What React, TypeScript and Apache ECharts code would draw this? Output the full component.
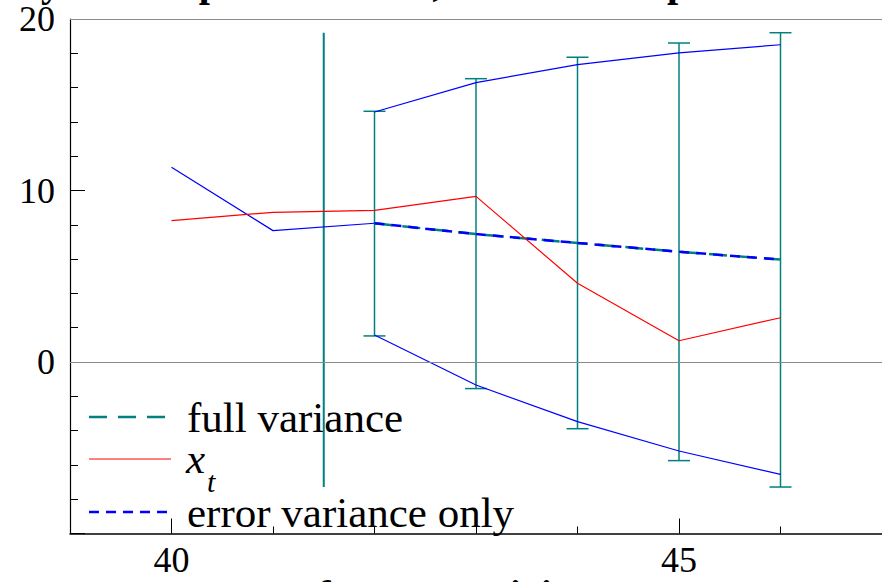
import React, { useEffect, useRef } from "react";
import * as echarts from "echarts";

// Observation periods and the observed series x_t
const periods = [40, 41, 42, 43, 44, 45, 46];
const actual = [8.24, 8.73, 8.84, 9.66, 4.59, 1.24, 2.58];

// In-sample fitted path up to the forecast origin
const fittedPeriods = [40, 41, 42];
const fitted = [11.36, 7.66, 8.09];

// Forecast horizon and point forecasts
const horizon = [42, 43, 44, 45, 46];
const pointForecast = [8.09, 7.46, 6.94, 6.43, 5.97];

// 95% bands using only the error variance
const errorOnlyUpper = [14.58, 16.29, 17.34, 18.02, 18.5];
const errorOnlyLower = [1.57, -1.34, -3.48, -5.19, -6.55];

// 95% bands using the full variance (drawn as error bars)
const fullUpper = [14.62, 16.52, 17.77, 18.6, 19.2];
const fullLower = [1.52, -1.55, -3.89, -5.75, -7.29];

// Forecast origin marker
const forecastOrigin = 41.5;

// Axis ticks and labels
const xMajorTicks = [40, 45];
const xMinorTicks = [41, 42, 43, 44, 46];
const yLabelled = [0, 10, 20];

const TEAL = "#008080";
const BLUE = "#0000ff";
const RED = "#ff0000";
const SERIF = "'Liberation Serif', 'Times New Roman', serif";

const pairs = (xs: number[], ys: number[]) => xs.map((x, i) => [x, ys[i]]);

export default function App() {
  const ref = useRef<HTMLDivElement>(null);

  useEffect(() => {
    if (!ref.current) return;
    const chart = echarts.init(ref.current, undefined, { renderer: "svg" });

    const originLow = Math.min(...fullLower);
    const originHigh = Math.max(...fullUpper);

    const option: any = {
      animation: false,
      backgroundColor: "#ffffff",
      grid: { left: 70, right: -1, top: 19, bottom: 48.5, containLabel: false },
      xAxis: [
        {
          type: "value",
          min: 39,
          max: 47,
          position: "bottom",
          axisLine: { show: true, onZero: false, lineStyle: { color: "#000", width: 1.5 } },
          axisTick: {
            show: true,
            inside: true,
            length: 15,
            customValues: xMajorTicks,
            lineStyle: { color: "#000", width: 1 },
          },
          axisLabel: {
            show: true,
            customValues: xMajorTicks,
            margin: 8,
            color: "#000",
            fontSize: 36,
            fontFamily: SERIF,
          },
          splitLine: { show: false },
        },
        {
          type: "value",
          min: 39,
          max: 47,
          position: "bottom",
          axisLine: { show: false, onZero: false },
          axisTick: {
            show: true,
            inside: true,
            length: 7,
            customValues: xMinorTicks,
            lineStyle: { color: "#000", width: 1 },
          },
          axisLabel: { show: false },
          splitLine: { show: false },
        },
      ],
      yAxis: {
        type: "value",
        min: -10,
        max: 20,
        interval: 10,
        axisLine: { show: true, onZero: false, lineStyle: { color: "#000", width: 1.2 } },
        axisTick: { show: true, inside: true, length: 15, lineStyle: { color: "#000", width: 1 } },
        minorTick: { show: true, splitNumber: 5, length: 8, lineStyle: { color: "#000", width: 1 } },
        axisLabel: {
          margin: 15,
          color: "#000",
          fontSize: 36,
          fontFamily: SERIF,
          formatter: (v: number) => (yLabelled.includes(v) ? String(v) : ""),
        },
        splitLine: { show: false },
      },
      series: [
        {
          name: "fitted",
          type: "line",
          data: pairs(fittedPeriods, fitted),
          symbol: "none",
          lineStyle: { color: BLUE, width: 1.2 },
          z: 3,
          markLine: {
            silent: true,
            symbol: "none",
            label: { show: false },
            lineStyle: { color: "#8a8a8a", width: 1, type: "solid" },
            data: [{ yAxis: 0 }, { yAxis: 20 }],
          },
        },
        {
          name: "full variance interval",
          type: "custom",
          data: horizon.map((x, i) => [x, fullLower[i], fullUpper[i]]),
          encode: { x: 0, y: [1, 2] },
          z: 2,
          renderItem: (_params: any, api: any) => {
            const x = api.value(0);
            const lo = api.coord([x, api.value(1)]);
            const hi = api.coord([x, api.value(2)]);
            const half = 11;
            const style = { stroke: TEAL, lineWidth: 1.5 };
            return {
              type: "group",
              children: [
                { type: "line", shape: { x1: lo[0], y1: lo[1], x2: hi[0], y2: hi[1] }, style },
                { type: "line", shape: { x1: lo[0] - half, y1: lo[1], x2: lo[0] + half, y2: lo[1] }, style },
                { type: "line", shape: { x1: hi[0] - half, y1: hi[1], x2: hi[0] + half, y2: hi[1] }, style },
              ],
            };
          },
        },
        {
          name: "forecast origin",
          type: "line",
          data: [
            [forecastOrigin, originLow],
            [forecastOrigin, originHigh],
          ],
          symbol: "none",
          lineStyle: { color: TEAL, width: 2 },
          z: 2,
        },
        {
          name: "full variance",
          type: "line",
          data: pairs(horizon, pointForecast),
          symbol: "none",
          lineStyle: { color: TEAL, width: 2.5, type: [18, 10] },
          z: 3,
        },
        {
          name: "error variance only",
          type: "line",
          data: pairs(horizon, pointForecast),
          symbol: "none",
          lineStyle: { color: BLUE, width: 2.5, type: [10, 7] },
          z: 4,
        },
        {
          name: "error variance upper",
          type: "line",
          data: pairs(horizon, errorOnlyUpper),
          symbol: "none",
          lineStyle: { color: BLUE, width: 1.2 },
          z: 3,
        },
        {
          name: "error variance lower",
          type: "line",
          data: pairs(horizon, errorOnlyLower),
          symbol: "none",
          lineStyle: { color: BLUE, width: 1.2 },
          z: 3,
        },
        {
          name: "x_t",
          type: "line",
          data: pairs(periods, actual),
          symbol: "none",
          lineStyle: { color: RED, width: 1.2 },
          z: 4,
        },
      ],
      graphic: [
        // title (runs past the top edge of the frame)
        {
          type: "text",
          left: -2,
          top: -38,
          style: {
            text: "Toy model: point forecast, and its 95% prediction intervals",
            font: `bold 40px ${SERIF}`,
            fill: "#000",
          },
        },
        // caption below the axis (runs past the bottom edge)
        {
          type: "text",
          left: 205,
          top: 574.5,
          style: {
            text: "5-step forecast, origin t = 41",
            font: `bold 40px ${SERIF}`,
            fill: "#000",
          },
        },
        // legend
        {
          type: "line",
          shape: { x1: 89, y1: 417, x2: 171, y2: 417 },
          style: { stroke: TEAL, lineWidth: 2.5, lineDash: [18, 11] },
        },
        {
          type: "text",
          x: 187,
          y: 417,
          style: {
            text: "full variance",
            font: `43px ${SERIF}`,
            fill: "#000",
            verticalAlign: "middle",
          },
        },
        {
          type: "line",
          shape: { x1: 89, y1: 459, x2: 171, y2: 459 },
          style: { stroke: RED, lineWidth: 1.2 },
        },
        {
          type: "text",
          x: 186,
          y: 458.5,
          style: { text: "x", font: `italic 43px ${SERIF}`, fill: "#000", verticalAlign: "middle" },
        },
        {
          type: "text",
          x: 207,
          y: 481,
          style: { text: "t", font: `italic 30px ${SERIF}`, fill: "#000", verticalAlign: "middle" },
        },
        {
          type: "line",
          shape: { x1: 89, y1: 512, x2: 171, y2: 512 },
          style: { stroke: BLUE, lineWidth: 2.5, lineDash: [10, 7] },
        },
        {
          type: "text",
          x: 187,
          y: 512.5,
          style: {
            text: "error variance only",
            font: `43px ${SERIF}`,
            fill: "#000",
            verticalAlign: "middle",
          },
        },
      ],
    };

    chart.setOption(option);
    return () => chart.dispose();
  }, []);

  return (
    <div
      ref={ref}
      style={{ position: "absolute", left: 0, top: 0, width: 882, height: 582, background: "#fff" }}
    />
  );
}
